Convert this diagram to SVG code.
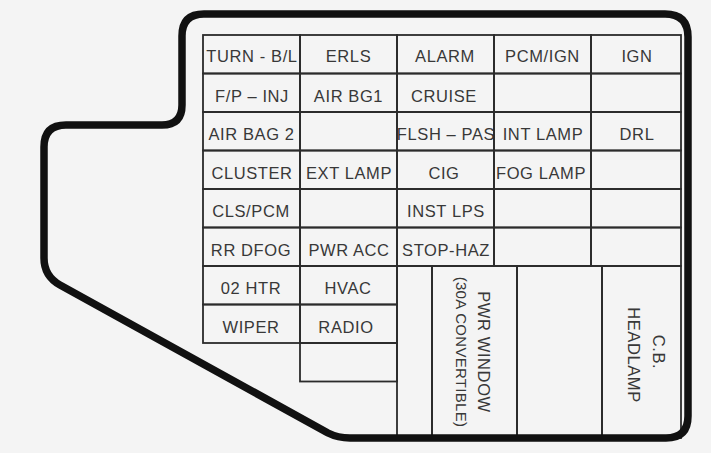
<svg xmlns="http://www.w3.org/2000/svg" width="711" height="453" viewBox="0 0 711 453">
<style>
.c{fill:none;stroke:#2b2b2b;stroke-width:1.8}
.t{font-family:"Liberation Sans",Arial,sans-serif;font-size:16.5px;fill:#383838;text-anchor:middle;letter-spacing:0.6px}
.s{font-size:15px;letter-spacing:0.3px}
.o{fill:none;stroke:#111;stroke-width:7.5;stroke-linejoin:round}
</style>
<rect width="711" height="453" fill="#f4f4f4"/>
<g id="connectors"></g>
<g id="r0c0"><rect class="c" x="203" y="35" width="97" height="38.5"/><text class="t" x="252" y="62">TURN - B/L</text></g>
<g id="r0c1"><rect class="c" x="300" y="35" width="97" height="38.5"/><text class="t" x="348.5" y="62">ERLS</text></g>
<g id="r0c2"><rect class="c" x="397" y="35" width="97" height="38.5"/><text class="t" x="445" y="62">ALARM</text></g>
<g id="r0c3"><rect class="c" x="494" y="35" width="97" height="38.5"/><text class="t" x="542.5" y="62">PCM/IGN</text></g>
<g id="r0c4"><rect class="c" x="591" y="35" width="90" height="38.5"/><text class="t" x="637" y="62">IGN</text></g>
<g id="r1c0"><rect class="c" x="203" y="73.5" width="97" height="38.5"/><text class="t" x="252" y="101.5">F/P – INJ</text></g>
<g id="r1c1"><rect class="c" x="300" y="73.5" width="97" height="38.5"/><text class="t" x="348.5" y="101.5">AIR BG1</text></g>
<g id="r1c2"><rect class="c" x="397" y="73.5" width="97" height="38.5"/><text class="t" x="444" y="101.5">CRUISE</text></g>
<g id="r1c3"><rect class="c" x="494" y="73.5" width="97" height="38.5"/></g>
<g id="r1c4"><rect class="c" x="591" y="73.5" width="90" height="38.5"/></g>
<g id="r2c0"><rect class="c" x="203" y="112" width="97" height="38.5"/><text class="t" x="251.5" y="140">AIR BAG 2</text></g>
<g id="r2c1"><rect class="c" x="300" y="112" width="97" height="38.5"/></g>
<g id="r2c2"><rect class="c" x="397" y="112" width="97" height="38.5"/><text class="t" x="446" y="140">FLSH – PAS</text></g>
<g id="r2c3"><rect class="c" x="494" y="112" width="97" height="38.5"/><text class="t" x="543" y="140">INT LAMP</text></g>
<g id="r2c4"><rect class="c" x="591" y="112" width="90" height="38.5"/><text class="t" x="637" y="140">DRL</text></g>
<g id="r3c0"><rect class="c" x="203" y="150.5" width="97" height="38.5"/><text class="t" x="252" y="178.5">CLUSTER</text></g>
<g id="r3c1"><rect class="c" x="300" y="150.5" width="97" height="38.5"/><text class="t" x="349" y="178.5">EXT LAMP</text></g>
<g id="r3c2"><rect class="c" x="397" y="150.5" width="97" height="38.5"/><text class="t" x="444" y="178.5">CIG</text></g>
<g id="r3c3"><rect class="c" x="494" y="150.5" width="97" height="38.5"/><text class="t" x="541" y="178.5">FOG LAMP</text></g>
<g id="r3c4"><rect class="c" x="591" y="150.5" width="90" height="38.5"/></g>
<g id="r4c0"><rect class="c" x="203" y="189" width="97" height="38.5"/><text class="t" x="251" y="217">CLS/PCM</text></g>
<g id="r4c1"><rect class="c" x="300" y="189" width="97" height="38.5"/></g>
<g id="r4c2"><rect class="c" x="397" y="189" width="97" height="38.5"/><text class="t" x="446" y="217">INST LPS</text></g>
<g id="r4c3"><rect class="c" x="494" y="189" width="97" height="38.5"/></g>
<g id="r4c4"><rect class="c" x="591" y="189" width="90" height="38.5"/></g>
<g id="r5c0"><rect class="c" x="203" y="227.5" width="97" height="38.5"/><text class="t" x="251" y="255.5">RR DFOG</text></g>
<g id="r5c1"><rect class="c" x="300" y="227.5" width="97" height="38.5"/><text class="t" x="349" y="255.5">PWR ACC</text></g>
<g id="r5c2"><rect class="c" x="397" y="227.5" width="97" height="38.5"/><text class="t" x="446" y="255.5">STOP-HAZ</text></g>
<g id="r5c3"><rect class="c" x="494" y="227.5" width="97" height="38.5"/></g>
<g id="r5c4"><rect class="c" x="591" y="227.5" width="90" height="38.5"/></g>
<g id="r6c0"><rect class="c" x="203" y="266" width="97" height="38.5"/><text class="t" x="251" y="294">02 HTR</text></g>
<g id="r6c1"><rect class="c" x="300" y="266" width="97" height="38.5"/><text class="t" x="348" y="294">HVAC</text></g>
<g id="r7c0"><rect class="c" x="203" y="304.5" width="97" height="38.5"/><text class="t" x="251" y="332.5">WIPER</text></g>
<g id="r7c1"><rect class="c" x="300" y="304.5" width="97" height="38.5"/><text class="t" x="346" y="332.5">RADIO</text></g>
<g id="r8c1"><rect class="c" x="300" y="343" width="97" height="38.5"/></g>
<g id="b0"><rect class="c" x="397" y="266" width="35" height="172"/></g>
<g id="b1"><rect class="c" x="432" y="266" width="85" height="172"/><text class="t" transform="translate(478 352) rotate(90)">PWR WINDOW</text><text class="t s" transform="translate(455.5 352) rotate(90)">(30A CONVERTIBLE)</text></g>
<g id="b2"><rect class="c" x="517" y="266" width="85" height="172"/></g>
<g id="b3"><rect class="c" x="602" y="266" width="79" height="172"/><text class="t" transform="translate(652.5 352) rotate(90)">C.B.</text><text class="t" transform="translate(627.5 355) rotate(90)">HEADLAMP</text></g>
<g id="outline"><path class="o" d="M182 36 Q182 14 204 14 L665 14 Q688 14 688 37 L688 416 Q688 438 666 438 L350 438 Q338 438 328 433 L60 285 Q44 276 44 258 L44 147 Q44 125 66 125 L162 125 Q182 125 182 105 Z"/></g>
</svg>
